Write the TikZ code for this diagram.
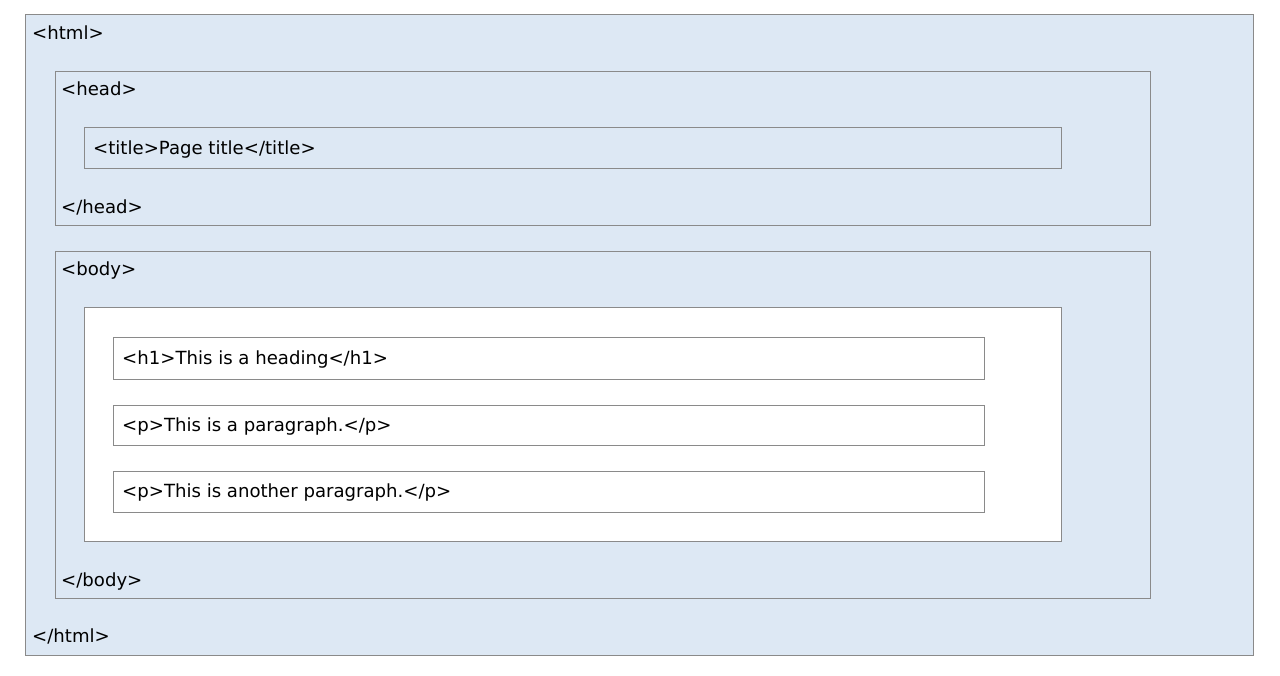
\documentclass[tikz,border=0pt]{standalone}
\usepackage{fontspec}
\setmainfont{DejaVu Sans}
\definecolor{bgblue}{HTML}{DDE8F4}
\definecolor{edge}{HTML}{8A8A8A}
\begin{document}
\begin{tikzpicture}[x=1pt,y=-1pt,
  bluebox/.style={draw=edge,fill=bgblue,line width=1pt},
  whitebox/.style={draw=edge,fill=white,line width=1pt},
  tag/.style={anchor=base west,inner sep=0pt,font=\fontsize{18.1}{21}\selectfont,text=black}]
\useasboundingbox[fill=white] (0,0) rectangle (1280,676);
\draw[bluebox] (25,15) rectangle (1253,655);
\draw[bluebox] (55,72) rectangle (1150,226);
\draw[bluebox] (84,128) rectangle (1061,169);
\draw[bluebox] (55,252) rectangle (1150,598);
\draw[whitebox] (84,308) rectangle (1061,541);
\draw[whitebox] (113,338) rectangle (984,379);
\draw[whitebox] (113,405) rectangle (984,445);
\draw[whitebox] (113,471) rectangle (984,512);
\node[tag] (html) at (32,40) {<html>};
\node[tag] (head) at (61,96) {<head>};
\node[tag] (title) at (93,155) {<title>Page title</title>};
\node[tag] (headend) at (61,214) {</head>};
\node[tag] (body) at (61,276) {<body>};
\node[tag] (h1) at (122,364) {<h1>This is a heading</h1>};
\node[tag] (p1) at (122,431) {<p>This is a paragraph.</p>};
\node[tag] (p2) at (122,497) {<p>This is another paragraph.</p>};
\node[tag] (bodyend) at (61,586) {</body>};
\node[tag] (htmlend) at (32,642) {</html>};
\end{tikzpicture}
\end{document}
